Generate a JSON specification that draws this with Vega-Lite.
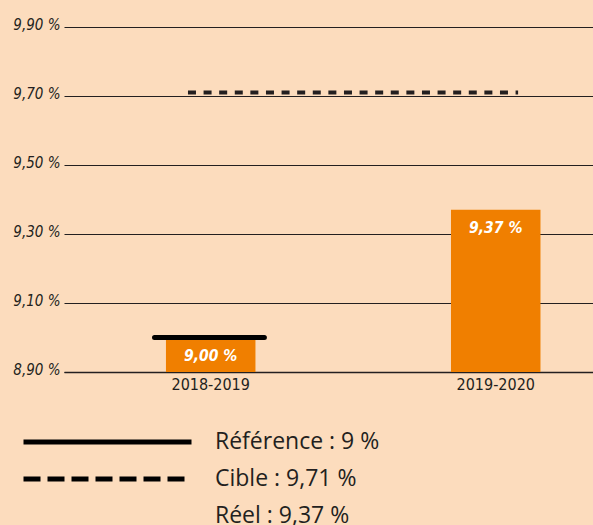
{
  "$schema": "https://vega.github.io/schema/vega-lite/v6.json",
  "width": 529,
  "height": 345,
  "autosize": {"type": "none"},
  "padding": {"left": 64, "top": 27, "right": 0, "bottom": 153},
  "background": "#FCDCBD",
  "config": {
    "view": {"stroke": null},
    "axis": {"labelColor": "#231f20", "titleColor": "#231f20"}
  },
  "layer": [
    {
      "data": {"values": [
        {"periode": "2018-2019", "taux": 9.00, "label": "9,00 %"},
        {"periode": "2019-2020", "taux": 9.37, "label": "9,37 %"}
      ]},
      "mark": {"type": "bar", "color": "#F07F00"},
      "encoding": {
        "x": {
          "field": "periode", "type": "nominal",
          "scale": {"domain": ["2018-2019", "2019-2020"], "paddingInner": 0.686, "paddingOuter": 0.271, "align": 0.66},
          "axis": {"title": null, "labelAngle": 0, "domain": true, "domainColor": "#231f20", "domainWidth": 1.6, "ticks": false, "grid": false, "labelFont": "DejaVu Sans Condensed", "labelFontSize": 16, "labelPadding": 4}
        },
        "y": {
          "field": "taux", "type": "quantitative",
          "scale": {"domain": [8.9, 9.9], "zero": false, "nice": false},
          "axis": {"title": null, "values": [8.9, 9.1, 9.3, 9.5, 9.7, 9.9], "labelExpr": "replace(format(datum.value, '.2f'), '.', ',') + ' %'", "domain": false, "ticks": false, "grid": true, "gridColor": "#231f20", "gridWidth": 1.2, "labelFont": "DejaVu Sans Condensed", "labelFontStyle": "italic", "labelFontSize": 15, "labelPadding": 4, "labelOffset": -3}
        },
        "y2": {"datum": 8.9}
      }
    },
    {
      "data": {"values": [
        {"periode": "2018-2019", "taux": 9.00, "label": "9,00 %"},
        {"periode": "2019-2020", "taux": 9.37, "label": "9,37 %"}
      ]},
      "mark": {"type": "text", "color": "#ffffff", "font": "DejaVu Sans Condensed", "fontWeight": "bold", "fontStyle": "italic", "fontSize": 15.5, "baseline": "middle", "dy": 18},
      "encoding": {
        "x": {"field": "periode", "type": "nominal"},
        "y": {"field": "taux", "type": "quantitative"},
        "text": {"field": "label"}
      }
    },
    {
      "data": {"values": [
        {"serie": "Cible : 9,71 %", "debut": "2018-2019", "fin": "2019-2020", "taux": 9.71}
      ]},
      "mark": {"type": "rule", "color": "#231f20", "strokeWidth": 4, "strokeDash": [8, 7.6]},
      "encoding": {
        "x": {"field": "debut", "type": "nominal", "bandPosition": 0.246},
        "x2": {"field": "fin", "bandPosition": 0.75},
        "y": {"field": "taux", "type": "quantitative"}
      }
    },
    {
      "data": {"values": [
        {"serie": "Référence : 9 %", "debut": "2018-2019", "fin": "2018-2019", "taux": 9.00}
      ]},
      "mark": {"type": "rule", "color": "#000000", "strokeWidth": 5, "strokeCap": "round"},
      "encoding": {
        "x": {"field": "debut", "type": "nominal", "bandPosition": -0.128},
        "x2": {"field": "fin", "bandPosition": 1.1},
        "y": {"field": "taux", "type": "quantitative"},
        "strokeDash": {
          "field": "serie", "type": "nominal",
          "scale": {"domain": ["Référence : 9 %", "Cible : 9,71 %", "Réel : 9,37 %"], "range": [[1, 0], [17, 7], [0, 1]]},
          "legend": {"orient": "none", "legendX": -43, "legendY": 405, "direction": "vertical", "title": null, "symbolType": "stroke", "symbolSize": 28224, "symbolStrokeWidth": 5, "symbolStrokeColor": "#000000", "clipHeight": 20, "rowPadding": 14, "labelFont": "Open Sans", "labelFontSize": 23, "labelColor": "#231f20", "labelOffset": 21, "padding": 0, "symbolOffset": 0, "labelLimit": 400}
        }
      }
    }
  ]
}
